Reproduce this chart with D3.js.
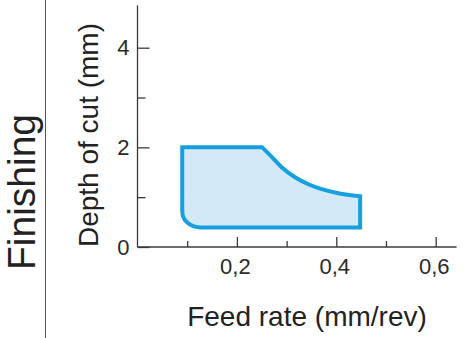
<!DOCTYPE html>
<html>
<head>
<meta charset="utf-8">
<script src="https://cdn.jsdelivr.net/npm/d3@7"></script>
<style>
  body { margin: 0; background: #fff; }
  svg { display: block; font-family: "Liberation Sans", Arial, sans-serif; }
  .axis text { fill: #2a2a2a; }
</style>
</head>
<body>
<svg width="463" height="338"></svg>
<script>
// finishing window: feed rate (mm/rev) vs depth of cut (mm)
var topEdge = [[0.09, 2.0], [0.251, 2.0]]
var curveEdge = [[0.251, 2.0], [0.27, 1.81], [0.29, 1.6], [0.317, 1.4], [0.344, 1.26], [0.371, 1.16], [0.404, 1.08], [0.448, 1.02]]
var bottomEdge = [[0.448, 1.02], [0.448, 0.39], [0.126, 0.39]]
var cornerEdge = [[0.126, 0.39], [0.112, 0.42], [0.1, 0.49], [0.092, 0.6], [0.09, 0.74]]

var xMajor = [0.2, 0.4, 0.6]
var xMinor = [0.1, 0.3, 0.5]
var xTickLabels = ['0,2', '0,4', '0,6']
var yMajor = [0, 2, 4]
var yMinor = [1, 3]

var svg = d3.select('svg')
var axisColor = '#3a3a3a'

var x = d3.scaleLinear().domain([0, 0.6]).range([137.5, 435.7])
var y = d3.scaleLinear().domain([0, 4]).range([247, 47.7])

// divider on the left
svg.append('line')
  .attr('x1', 45.5).attr('x2', 45.5)
  .attr('y1', 0).attr('y2', 338)
  .attr('stroke', '#555').attr('stroke-width', 1)

// region outline, stitched from straight and curved pieces
var line = d3.line().x(function(d) { return x(d[0]) }).y(function(d) { return y(d[1]) })
var pieces = [
  line.curve(d3.curveLinear)(topEdge),
  line.curve(d3.curveMonotoneX)(curveEdge),
  line.curve(d3.curveLinear)(bottomEdge),
  line.curve(d3.curveCatmullRom.alpha(0.5))(cornerEdge)
]
var outline = pieces.map(function(s, i) { return i ? 'L' + s.slice(1) : s }).join('') + 'Z'

svg.append('path')
  .attr('d', outline)
  .attr('fill', '#d4e9f8')
  .attr('stroke', '#16a0e0')
  .attr('stroke-width', 4)
  .attr('stroke-linejoin', 'miter')

// x axis
var gx = svg.append('g').attr('class', 'axis').attr('transform', 'translate(0,' + y(0) + ')')
gx.append('g')
  .call(d3.axisBottom(x).tickValues(xMinor).tickSize(-6).tickFormat(''))
gx.append('g')
  .call(d3.axisBottom(x).tickValues(xMajor).tickSize(-10).tickPadding(11)
    .tickFormat(function(d, i) { return xTickLabels[i] }))
gx.selectAll('.domain').remove()
gx.selectAll('line').attr('stroke', axisColor).attr('stroke-width', 1.3)
gx.selectAll('text').attr('font-size', 22).attr('dx', -2).attr('font-family', null)
gx.append('line')
  .attr('x1', x(0)).attr('x2', x(0.642))
  .attr('stroke', axisColor).attr('stroke-width', 1.3)

// y axis
var gy = svg.append('g').attr('class', 'axis').attr('transform', 'translate(' + x(0) + ',0)')
gy.append('g')
  .call(d3.axisLeft(y).tickValues(yMinor).tickSize(-8).tickFormat(''))
gy.append('g')
  .call(d3.axisLeft(y).tickValues(yMajor).tickSize(-12).tickPadding(8).tickFormat(d3.format('d')))
gy.selectAll('.domain').remove()
gy.selectAll('line').attr('stroke', axisColor).attr('stroke-width', 1.3)
gy.selectAll('text').attr('font-size', 22).attr('font-family', null)
gy.append('line')
  .attr('y1', y(0)).attr('y2', y(4.85))
  .attr('stroke', axisColor).attr('stroke-width', 1.3)

// titles
svg.append('text')
  .attr('transform', 'translate(35,192) rotate(-90)')
  .attr('text-anchor', 'middle')
  .attr('font-size', 39)
  .attr('fill', '#222')
  .text('Finishing')

svg.append('text')
  .attr('transform', 'translate(98,135) rotate(-90)')
  .attr('text-anchor', 'middle')
  .attr('font-size', 28)
  .attr('fill', '#222')
  .text('Depth of cut (mm)')

svg.append('text')
  .attr('x', 307).attr('y', 326)
  .attr('text-anchor', 'middle')
  .attr('font-size', 28)
  .attr('fill', '#222')
  .text('Feed rate (mm/rev)')
</script>
</body>
</html>
